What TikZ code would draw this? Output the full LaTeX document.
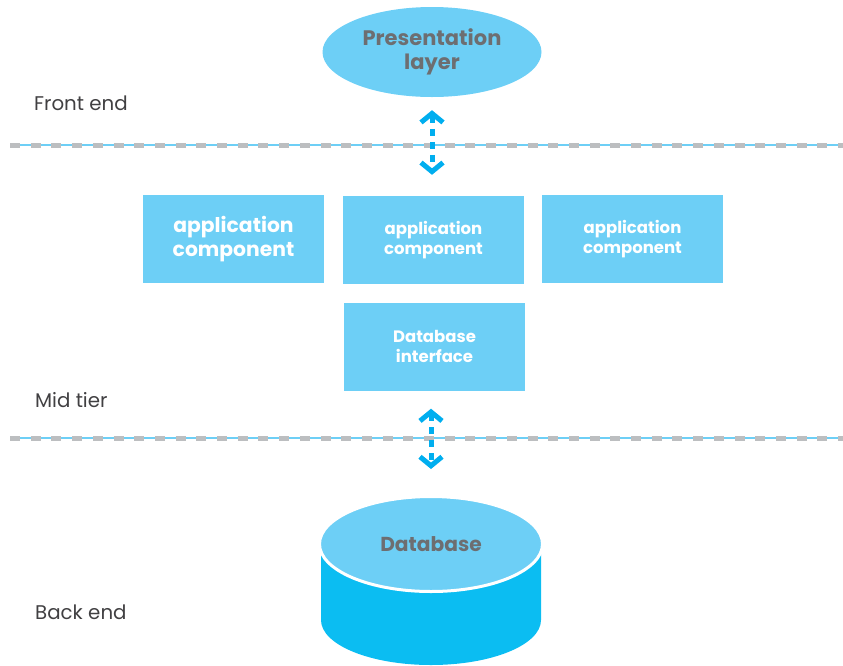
\documentclass[tikz,border=0pt]{standalone}
\usepackage{fontspec}
\setmainfont{Poppins}
\usetikzlibrary{arrows.meta,shapes.geometric}
\definecolor{lblue}{HTML}{6DCFF6}
\definecolor{dblue}{HTML}{0BBDF2}
\definecolor{arrblue}{HTML}{00AEEF}
\definecolor{dgray}{HTML}{BCBEC0}
\definecolor{tgray}{HTML}{6D6E71}
\definecolor{lgray}{HTML}{414042}
\tikzset{
  box/.style={fill=lblue, draw=none, minimum width=181pt, minimum height=88pt, inner sep=0pt, text=white, font=\bfseries, align=center},
  tierlabel/.style={anchor=west, text=lgray, font=\fontsize{19.8}{22}\selectfont, inner sep=0pt},
  sepline/.style={draw=lblue, line width=1.5pt},
  sepdash/.style={draw=dgray, line width=5pt, dash pattern=on 10pt off 10.7pt},
  dblarrow/.style={draw=arrblue, line width=5pt, dash pattern=on 7pt off 6pt,
    {Straight Barb[length=9pt,width=22pt,line width=5pt]}-{Straight Barb[length=9pt,width=22pt,line width=5pt]}}
}
\begin{document}
\begin{tikzpicture}[x=1pt,y=-1pt]
\useasboundingbox (0,0) rectangle (843,665);
% separators
\coordinate (s1a) at (10,145); \coordinate (s1b) at (843,145);
\coordinate (s2a) at (10,438); \coordinate (s2b) at (843,438);
\draw[sepline] (s1a) -- (s1b);
\draw[sepdash] (s1a) -- (s1b);
\draw[sepline] (s2a) -- (s2b);
\draw[sepdash] (s2a) -- (s2b);
% presentation layer
\node[ellipse, fill=lblue, minimum width=219pt, minimum height=90pt, inner sep=0pt, text=tgray, font=\fontsize{21}{24}\selectfont\bfseries, align=center] (pres) at (432,52) {Presentation\\layer};
% tier labels
\node[tierlabel] (front) at (34,103) {Front end};
\node[tierlabel] (mid) at (35,400) {Mid tier};
\node[tierlabel] (back) at (35,612) {Back end};
% boxes
\node[box, font=\fontsize{20.3}{24}\selectfont\bfseries] (app1) at (233.5,239) {application\\component};
\node[box, font=\fontsize{16.5}{20}\selectfont\bfseries] (app2) at (433.5,240) {application\\component};
\node[box, font=\fontsize{16.5}{20}\selectfont\bfseries] (app3) at (632.5,239) {application\\component};
\node[box, font=\fontsize{16.5}{20}\selectfont\bfseries] (dbi) at (434.5,346.5) {Database\\interface};
% database cylinder
\fill[dblue] (321,544) -- (321,620) arc[start angle=180,end angle=360,x radius=110pt,y radius=45pt] -- (541,544) -- cycle;
\node[ellipse, fill=lblue, draw=white, line width=3pt, minimum width=223pt, minimum height=95pt, inner sep=0pt, text=tgray, font=\fontsize{20.2}{24}\selectfont\bfseries] (db) at (431,544) {Database};
% arrows
\draw[dblarrow, shorten <=13pt, shorten >=21pt] (pres.south) -- (app2.north -| pres.south);
\draw[dblarrow, shorten <=18pt, shorten >=26pt] (dbi.south -| db.north) -- (db.north);
\end{tikzpicture}
\end{document}
